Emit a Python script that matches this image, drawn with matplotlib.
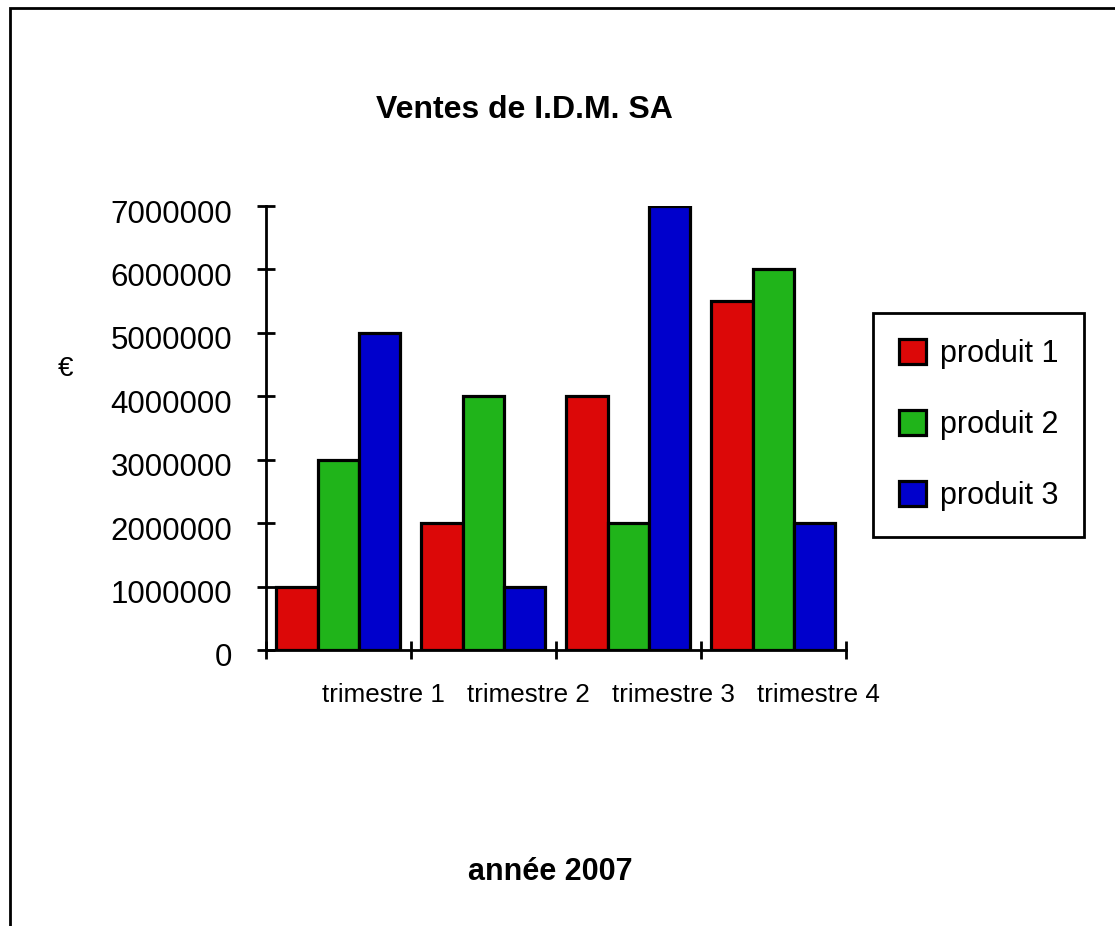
import matplotlib
matplotlib.use("Agg")
import matplotlib.pyplot as plt
import numpy as np
from matplotlib.patches import Rectangle
from matplotlib.legend_handler import HandlerPatch
from matplotlib.transforms import ScaledTranslation

# Quarterly sales (euros) per product
quarters = ["trimestre 1", "trimestre 2", "trimestre 3", "trimestre 4"]
products = ["produit 1", "produit 2", "produit 3"]
produit_1 = [1000000, 2000000, 4000000, 5500000]
produit_2 = [3000000, 4000000, 2000000, 6000000]
produit_3 = [5000000, 1000000, 7000000, 2000000]
y_ticks = [0, 1000000, 2000000, 3000000, 4000000, 5000000, 6000000, 7000000]
colors = ["#DC0808", "#20B41A", "#0000CC"]

title = "Ventes de I.D.M. SA"
x_title = "année 2007"
y_unit = "€"

plt.rcParams["font.family"] = ["Liberation Sans", "DejaVu Sans"]

W, H = 1115, 926
fig = plt.figure(figsize=(W / 100, H / 100), dpi=100)
fig.patch.set_facecolor("white")

# outer frame (right and bottom edges fall outside the canvas)
fig.patches.append(Rectangle((9.6 / W, -0.2), 1.3, 1.2 - 8 / H, transform=fig.transFigure,
                             fill=False, edgecolor="black", linewidth=2.0, clip_on=False))

ax = fig.add_axes([265.7 / W, 1 - 650 / H, (846 - 265.7) / W, (650 - 206) / H])

x = np.arange(len(quarters))
width = 0.285
series = [produit_1, produit_2, produit_3]
for i, (vals, name, c) in enumerate(zip(series, products, colors)):
    ax.bar(x + (i - 1) * width, vals, width, color=c, edgecolor="black",
           linewidth=2.3, label=name, zorder=3)

ax.set_xlim(-0.5, len(quarters) - 0.5)
ax.set_ylim(0, 7000000)
for s in ("top", "right"):
    ax.spines[s].set_visible(False)
for s in ("left", "bottom"):
    ax.spines[s].set_linewidth(2.0)
    ax.spines[s].set_capstyle("projecting")

ax.set_yticks(y_ticks)
ax.set_yticklabels([str(v) for v in y_ticks])
ax.tick_params(axis="y", direction="inout", length=13, width=2.0, labelsize=22.5, pad=17.5)
for lab in ax.get_yticklabels():
    lab.set_transform(lab.get_transform() + ScaledTranslation(0, -0.05, fig.dpi_scale_trans))

# boundary ticks between quarters, labels on minor ticks
ax.set_xticks(np.arange(len(quarters) + 1) - 0.5)
ax.set_xticklabels([])
ax.set_xticks(x, minor=True)
ax.set_xticklabels(quarters, minor=True)
ax.tick_params(axis="x", which="major", direction="inout", length=13, width=2.0)
ax.tick_params(axis="x", which="minor", length=0, labelsize=18.7, pad=24)
for lab in ax.get_xticklabels(minor=True):
    lab.set_transform(lab.get_transform() + ScaledTranslation(0.45, 0, fig.dpi_scale_trans))

fig.text(524.5 / W, 1 - 118 / H, title, ha="center", va="baseline",
         fontsize=23, fontweight="bold")
fig.text(550 / W, 1 - 880 / H, x_title, ha="center", va="baseline",
         fontsize=22, fontweight="bold")
fig.text(65.5 / W, 1 - 369 / H, y_unit, ha="center", va="center", fontsize=20)


def raised_patch(legend, orig_handle, xdescent, ydescent, width, height, fontsize):
    return Rectangle((-xdescent, -ydescent + 7.5), width, height)


leg = ax.legend(loc="upper left", bbox_to_anchor=(873 / W, 1 - 313 / H),
                bbox_transform=fig.transFigure, fontsize=22, frameon=True,
                fancybox=False, edgecolor="black", framealpha=1,
                handlelength=0.9, handleheight=0.9, handletextpad=0.44,
                labelspacing=1.33, borderpad=0.85, borderaxespad=0,
                handler_map={Rectangle: HandlerPatch(patch_func=raised_patch)})
leg.get_frame().set_linewidth(2.0)

fig.savefig("out.png", dpi=100, facecolor="white")
